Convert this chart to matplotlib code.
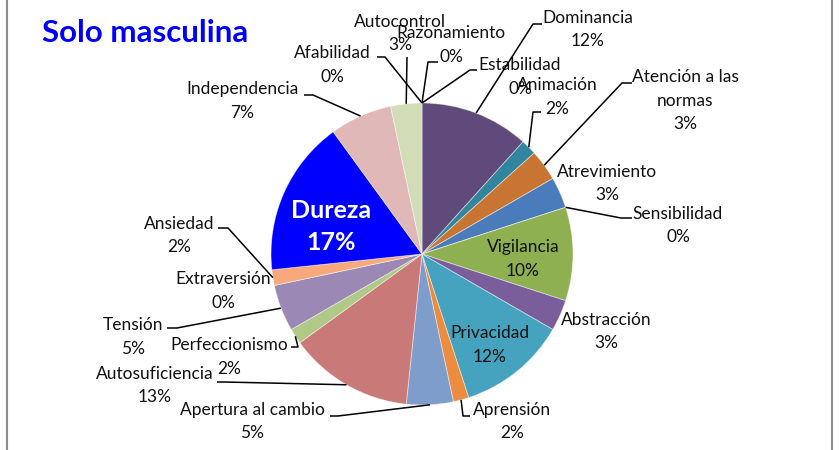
import matplotlib
matplotlib.use("Agg")
import matplotlib.pyplot as plt
from matplotlib.lines import Line2D
import numpy as np

# ---- data ----
categories = ["Afabilidad", "Razonamiento", "Estabilidad", "Dominancia", "Animación",
              "Atención a las\nnormas", "Atrevimiento", "Sensibilidad", "Vigilancia",
              "Abstracción", "Privacidad", "Aprensión", "Apertura al cambio",
              "Autosuficiencia", "Perfeccionismo", "Tensión", "Extraversión",
              "Ansiedad", "Dureza", "Independencia", "Autocontrol"]
values = [0, 0, 0, 7, 1, 2, 2, 0, 6, 2, 7, 1, 3, 8, 1, 3, 0, 1, 10, 4, 2]
title = "Solo masculina"

# ---- styles ----
colors = ["#4F81BD", "#C0504D", "#9BBB59", "#604A7B", "#31859C", "#C87533",
          "#4A7BBA", "#C0504D", "#8FB050", "#7A5E9C", "#45A3BF", "#EC8C40",
          "#7F9DCA", "#C97977", "#B0C987", "#9C88B5", "#6FBDD1", "#F7A97B",
          "#0000FF", "#E0B8B7", "#D2DDB8"]

W, H = 840, 450
CX, CY, R = 422, 254, 151   # pie centre / radius in image pixels (y from top)

# label layout (image pixel coords, y from top): text centre x, first line y,
# leader elbow and end (None = no leader)
label_pos = [(332, 53), (451, 33), (520, 65), (588, 18), (557, 85), (685, 77),
             (607, 172), (678, 214), (523, 247), (606, 320), (490, 333),
             (512, 410), (252, 410), (155, 374), (229, 345), (133, 325),
             (223, 279), (179, 224), (331, 211), (242, 89), (400, 22)]
leaders = [((385, 57), (377, 57)), ((428, 62), (438, 62)), ((470, 70), (477, 70)),
           ((533, 24), (542, 24)), ((533, 112), (541, 112)), ((622, 83), (632, 83)),
           None, ((621, 218), (632, 218)), None, None, None,
           ((463, 416), (470, 416)), ((338, 416), (330, 416)),
           ((224, 382), (217, 382)), ((298, 347), (291, 347)),
           ((177, 328), (167, 328)), None, ((228, 228), (218, 228)),
           None, ((313, 95), (304, 95)), ((407, 57), (407, 57))]
LINE_STEP = 23.5

FONT = ["Lato", "DejaVu Sans"]
plt.rcParams["font.family"] = FONT


def Y(y):
    return H - y


fig = plt.figure(figsize=(8.4, 4.5), dpi=100)
ax = fig.add_axes([0, 0, 1, 1])
wedges, _ = ax.pie(values, colors=colors, startangle=90, counterclock=False,
                   center=(CX, Y(CY)), radius=R,
                   wedgeprops=dict(edgecolor=(1, 1, 1, 0.5), linewidth=0.6))
ax.set_xlim(0, W)
ax.set_ylim(0, H)
ax.set_aspect("equal")
ax.axis("off")

total = sum(values)
for i, (w, name) in enumerate(zip(wedges, categories)):
    pct = f"{round(values[i] / total * 100):.0f}%"
    lines = name.split("\n") + [pct]
    x0, y0 = label_pos[i]
    if name == "Dureza":
        step = 32
        kw = dict(color="white", fontsize=18, fontweight="bold")
    else:
        step = LINE_STEP
        kw = dict(color="#111111", fontsize=12.5)
    for k, t in enumerate(lines):
        ax.text(x0, Y(y0 + k * step), t, ha="center", va="center", **kw)
    if leaders[i] is not None:
        mid = np.deg2rad((w.theta1 + w.theta2) / 2)
        ex = w.center[0] + w.r * np.cos(mid)
        ey = w.center[1] + w.r * np.sin(mid)
        (bx, by), (tx, ty) = leaders[i]
        ax.plot([ex, bx, tx], [ey, Y(by), Y(ty)], color="black", lw=1.1,
                solid_capstyle="butt", zorder=3)

ax.text(42, Y(33), title, color="#0000FF", fontsize=22.5, fontweight="bold",
        ha="left", va="center")

for xb in (7, 832):
    fig.add_artist(Line2D([xb / W, xb / W], [0, 1], color="#8C8C8C", lw=1.5))

fig.savefig("out.png", dpi=100)
